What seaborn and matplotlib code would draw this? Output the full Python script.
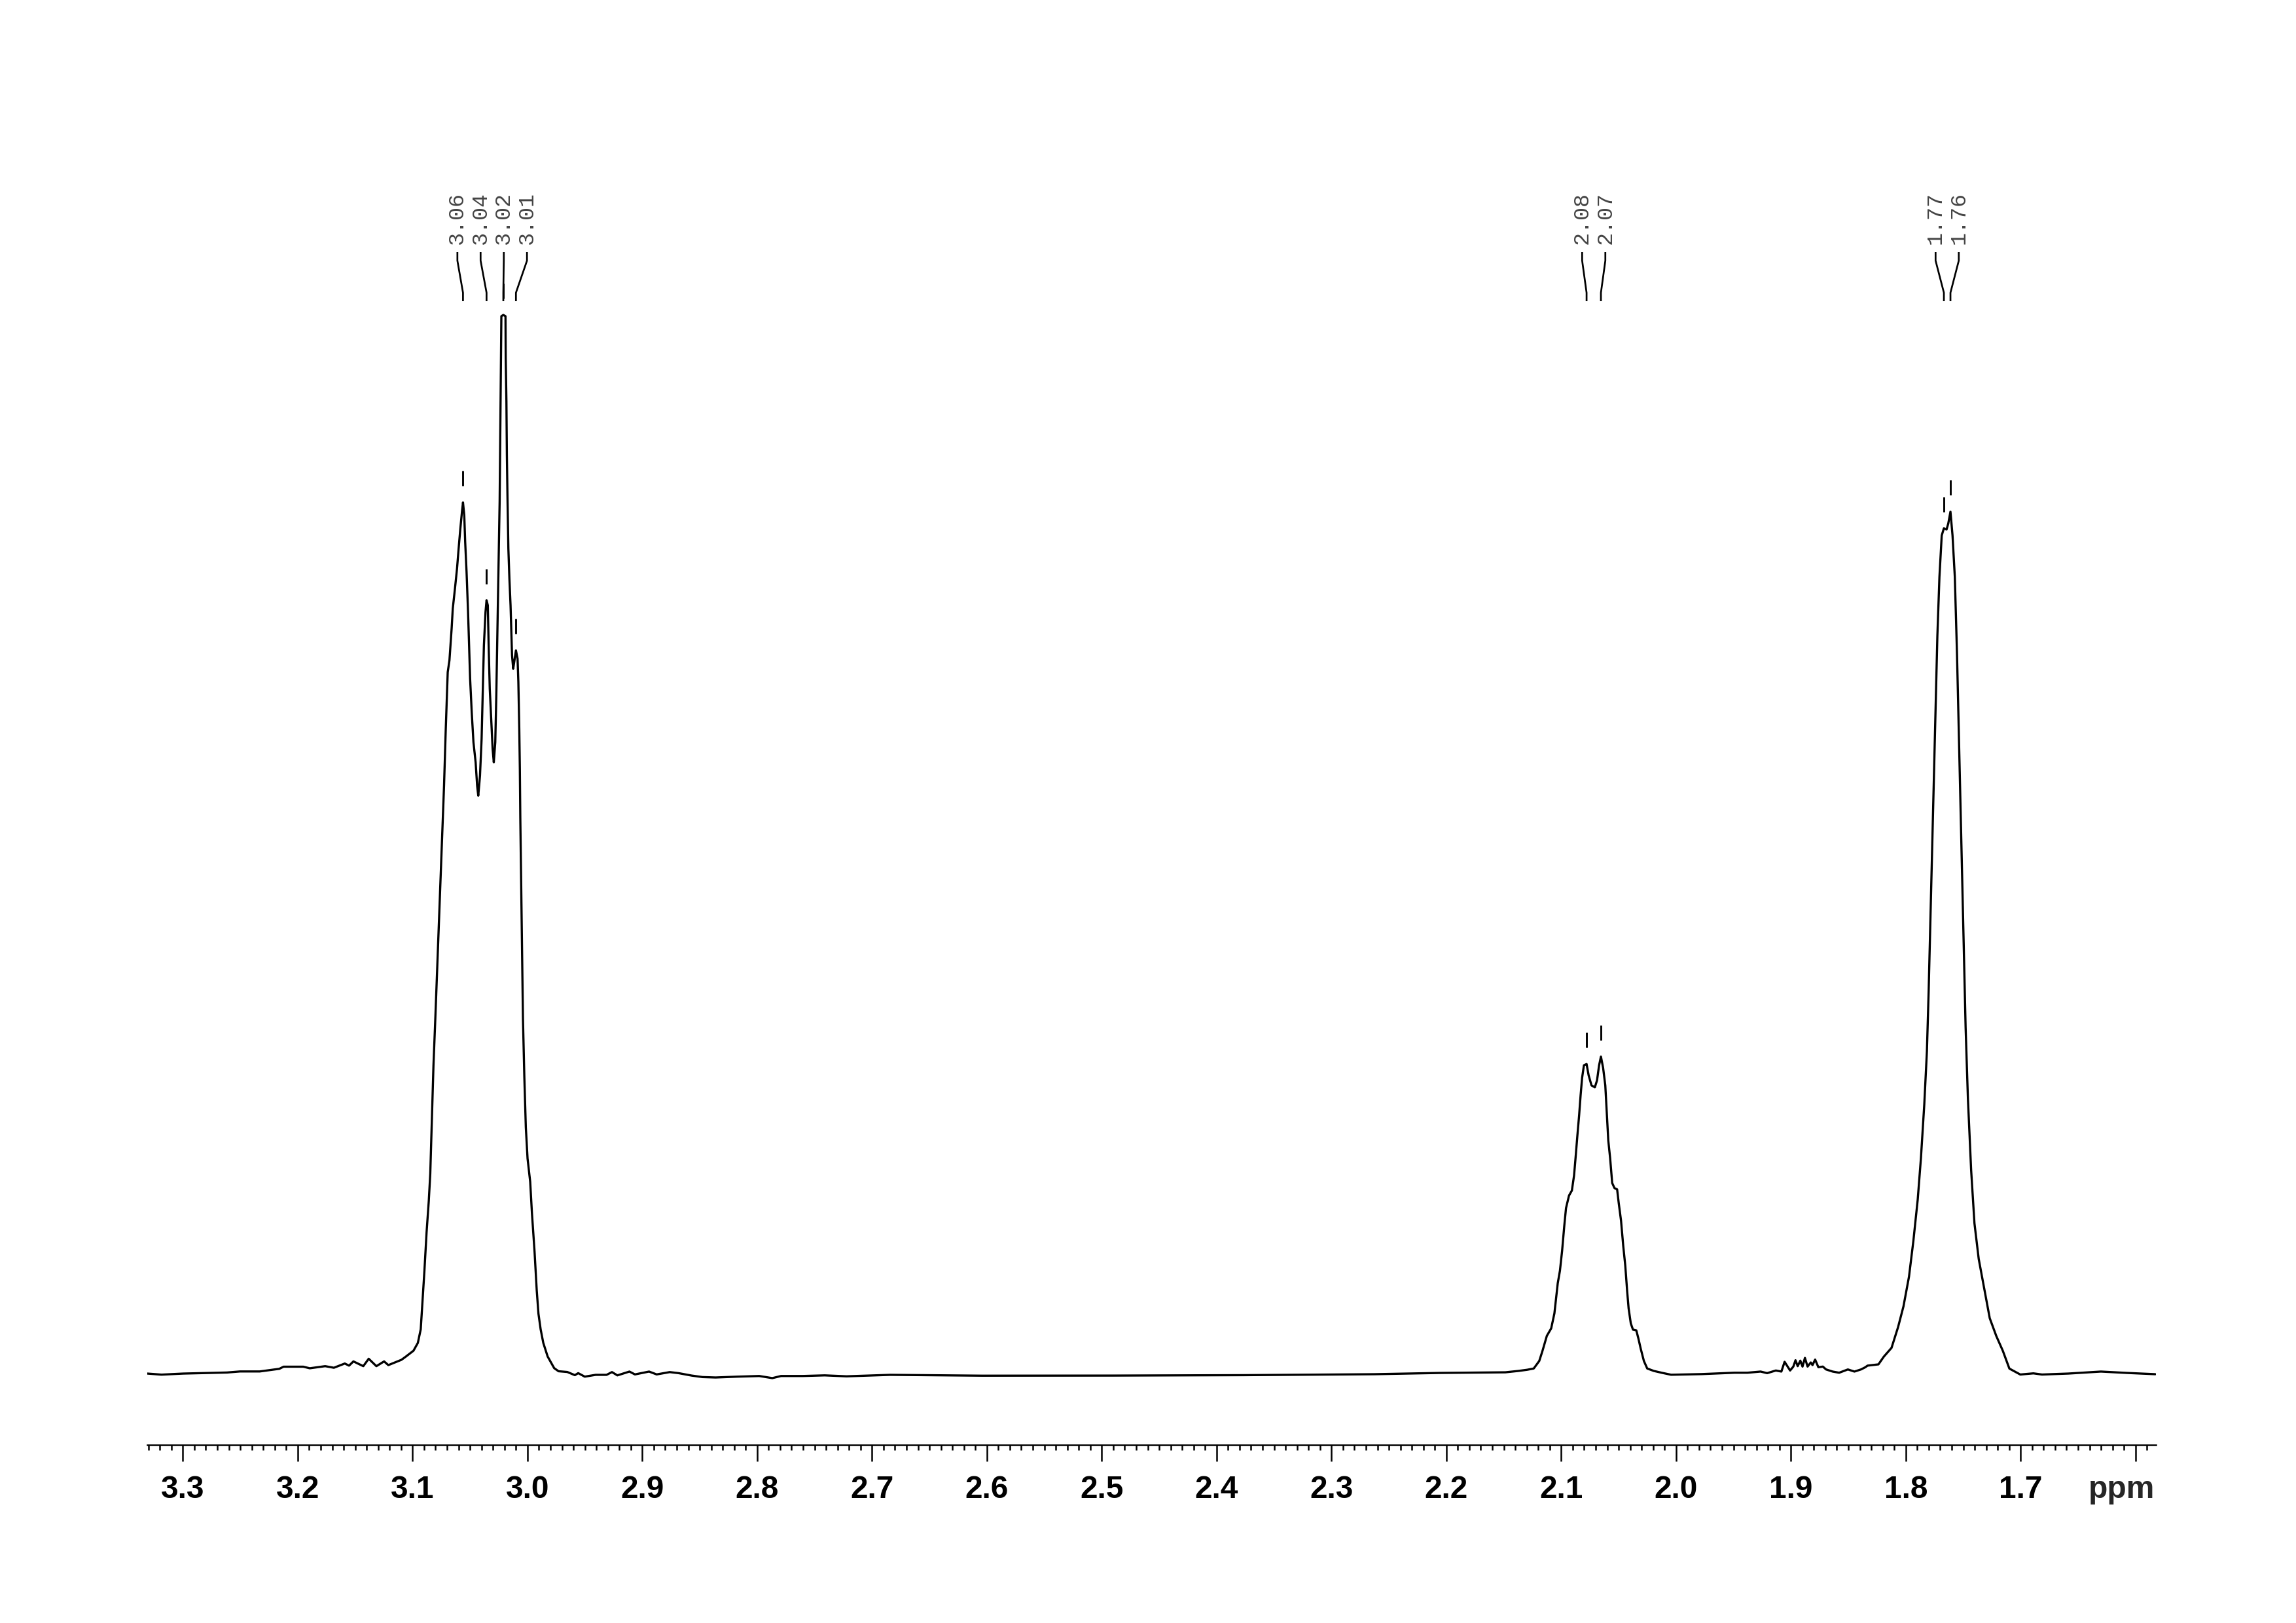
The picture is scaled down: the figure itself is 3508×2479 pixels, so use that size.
import numpy as np
import pandas as pd
import matplotlib
matplotlib.use("Agg")
import matplotlib.pyplot as plt
from matplotlib.ticker import MultipleLocator
import seaborn as sns

# 1H spectrum trace: shift (ppm) and intensity (tallest line = 100)
ppm = [3.3309, 3.3186, 3.2996, 3.2806, 3.2616, 3.2502, 3.2331, 3.2160, 3.2123, 3.1952,
       3.1895, 3.1761, 3.1685, 3.1590, 3.1553, 3.1515, 3.1429, 3.1382, 3.1315, 3.1248,
       3.1211, 3.1097, 3.1059, 3.0992, 3.0954, 3.0929, 3.0916, 3.0897, 3.0878, 3.0859,
       3.0846, 3.0831, 3.0818, 3.0802, 3.0783, 3.0764, 3.0745, 3.0726, 3.0711, 3.0701,
       3.0694, 3.0679, 3.0670, 3.0660, 3.0650, 3.0631, 3.0613, 3.0599, 3.0584, 3.0570,
       3.0561, 3.0550, 3.0542, 3.0530, 3.0517, 3.0508, 3.0499, 3.0485, 3.0470, 3.0451,
       3.0438, 3.0428, 3.0413, 3.0399, 3.0388, 3.0379, 3.0365, 3.0356, 3.0345, 3.0337,
       3.0328, 3.0314, 3.0303, 3.0293, 3.0280, 3.0271, 3.0261, 3.0251, 3.0242, 3.0236,
       3.0231, 3.0227, 3.0210, 3.0191, 3.0189, 3.0183, 3.0179, 3.0174, 3.0166, 3.0157,
       3.0147, 3.0141, 3.0134, 3.0124, 3.0115, 3.0100, 3.0086, 3.0079, 3.0071, 3.0066,
       3.0062, 3.0048, 3.0039, 3.0027, 3.0014, 2.9999, 2.9976, 2.9961, 2.9938, 2.9919,
       2.9904, 2.9885, 2.9862, 2.9824, 2.9767, 2.9729, 2.9653, 2.9587, 2.9558, 2.9501,
       2.9406, 2.9311, 2.9264, 2.9217, 2.9112, 2.9064, 2.8941, 2.8875, 2.8761, 2.8684,
       2.8570, 2.8476, 2.8362, 2.8171, 2.7982, 2.7868, 2.7792, 2.7602, 2.7412, 2.7222,
       2.7032, 2.6842, 2.6042, 2.4903, 2.3764, 2.2626, 2.2056, 2.1486, 2.1372, 2.1296,
       2.1239, 2.1191, 2.1163, 2.1125, 2.1087, 2.1059, 2.1030, 2.1011, 2.0992, 2.0973,
       2.0958, 2.0932, 2.0907, 2.0888, 2.0875, 2.0859, 2.0844, 2.0831, 2.0818, 2.0802,
       2.0779, 2.0761, 2.0736, 2.0707, 2.0688, 2.0670, 2.0654, 2.0635, 2.0616, 2.0603,
       2.0590, 2.0574, 2.0556, 2.0536, 2.0513, 2.0499, 2.0479, 2.0460, 2.0442, 2.0426,
       2.0413, 2.0394, 2.0375, 2.0346, 2.0328, 2.0308, 2.0280, 2.0251, 2.0194, 2.0118,
       2.0043, 1.9777, 1.9492, 1.9378, 1.9264, 1.9207, 1.9131, 1.9083, 1.9055, 1.9007,
       1.8979, 1.8960, 1.8941, 1.8918, 1.8899, 1.8878, 1.8855, 1.8827, 1.8812, 1.8789,
       1.8761, 1.8722, 1.8694, 1.8637, 1.8580, 1.8504, 1.8447, 1.8390, 1.8352, 1.8333,
       1.8238, 1.8191, 1.8124, 1.8067, 1.8020, 1.7972, 1.7934, 1.7896, 1.7868, 1.7839,
       1.7816, 1.7801, 1.7782, 1.7763, 1.7744, 1.7725, 1.7707, 1.7687, 1.7668, 1.7645,
       1.7630, 1.7611, 1.7593, 1.7573, 1.7554, 1.7536, 1.7516, 1.7497, 1.7479, 1.7459,
       1.7431, 1.7402, 1.7365, 1.7317, 1.7269, 1.7212, 1.7155, 1.7098, 1.7003, 1.6889,
       1.6814, 1.6586, 1.6301, 1.6073, 1.5828]
intensity = [0.0, -0.1, 0.0, 0.05, 0.1, 0.2, 0.2, 0.45, 0.65, 0.65,
             0.5, 0.7, 0.55, 0.95, 0.75, 1.15, 0.7, 1.4, 0.7, 1.15,
             0.8, 1.3, 1.6, 2.16, 2.9, 4.18, 6.4, 9.68, 13.35, 16.29,
             18.86, 24.35, 29.13, 33.53, 39.03, 44.53, 50.03, 55.53, 60.90, 64.06,
             66.26, 67.37, 68.79, 70.37, 72.26, 74.15, 76.04, 77.93, 79.83, 81.41,
             82.29, 81.09, 78.56, 75.73, 71.94, 68.79, 65.63, 62.47, 59.64, 57.74,
             55.53, 54.59, 56.48, 59.95, 64.69, 68.79, 71.94, 73.05, 72.57, 68.47,
             64.69, 61.53, 59.0, 57.74, 59.64, 64.06, 70.37, 76.67, 82.36, 89.30,
             95.61, 99.88, 100.0, 99.88, 95.92, 91.82, 86.77, 82.99, 77.93, 75.10,
             72.57, 70.37, 67.84, 66.58, 67.21, 68.31, 67.53, 65.32, 60.90, 57.11,
             52.44, 40.87, 33.53, 28.03, 23.26, 20.32, 18.12, 15.19, 11.52, 7.85,
             5.65, 4.18, 2.90, 1.61, 0.51, 0.22, 0.15, -0.15, 0.04, -0.29,
             -0.12, -0.12, 0.14, -0.17, 0.19, -0.08, 0.19, -0.08, 0.14, 0.04,
             -0.19, -0.33, -0.37, -0.29, -0.23, -0.43, -0.23, -0.23, -0.17, -0.26,
             -0.19, -0.12, -0.2, -0.19, -0.15, -0.06, 0.06, 0.12, 0.25, 0.36,
             0.48, 1.19, 2.14, 3.56, 4.27, 5.69, 8.53, 9.71, 11.60, 13.97,
             15.63, 16.81, 17.29, 18.71, 20.36, 22.49, 24.38, 26.28, 27.93, 29.12,
             29.24, 28.17, 27.22, 27.04, 27.70, 29.12, 29.94, 28.88, 27.22, 24.62,
             22.02, 20.36, 18.0, 17.52, 17.40, 16.10, 14.45, 12.08, 10.19, 7.82,
             6.16, 4.74, 4.15, 4.08, 3.32, 2.37, 1.19, 0.48, 0.25, 0.06,
             -0.11, -0.05, 0.08, 0.08, 0.19, 0.04, 0.29, 0.19, 1.11, 0.29,
             0.66, 1.26, 0.70, 1.22, 0.66, 1.48, 0.66, 1.05, 0.80, 1.32,
             0.60, 0.66, 0.39, 0.19, 0.08, 0.39, 0.19, 0.39, 0.60, 0.75,
             0.87, 1.60, 2.43, 4.39, 6.35, 9.15, 12.51, 16.44, 20.36, 25.40,
             30.44, 36.04, 44.45, 52.84, 61.25, 69.65, 75.25, 79.17, 79.85, 79.73,
             80.30, 81.42, 79.17, 75.25, 67.97, 59.57, 50.04, 41.64, 32.68, 25.96,
             19.23, 14.19, 10.83, 8.03, 5.23, 3.55, 2.15, 0.47, -0.09, 0.02,
             -0.09, 0.0, 0.19, 0.06, -0.06]

# picked peaks (position, printed label, multiplet group)
peak_ppm = [3.0561, 3.0356, 3.0210, 3.0100, 2.0779, 2.0654, 1.7668, 1.7611]
peak_labels = ["3.06", "3.04", "3.02", "3.01", "2.08", "2.07", "1.77", "1.76"]
peak_group = [0, 0, 0, 0, 1, 1, 2, 2]

# x axis ticks, last major one is replaced by the unit
major_ticks = [3.3, 3.2, 3.1, 3.0, 2.9, 2.8, 2.7, 2.6, 2.5, 2.4, 2.3, 2.2, 2.1, 2.0, 1.9, 1.8, 1.7, 1.6]
tick_labels = ["3.3", "3.2", "3.1", "3.0", "2.9", "2.8", "2.7", "2.6", "2.5", "2.4",
               "2.3", "2.2", "2.1", "2.0", "1.9", "1.8", "1.7", ""]

sns.set_style("white")
plt.rcParams["font.family"] = ["Liberation Sans", "DejaVu Sans"]

df = pd.DataFrame({"ppm": ppm, "intensity": intensity})

fig = plt.figure(figsize=(3508 / 300, 2479 / 300), dpi=300)
ax = fig.add_axes([0.06403, 0.10972, 0.87497, 0.89028])

sns.lineplot(data=df, x="ppm", y="intensity", ax=ax, color="black",
             linewidth=0.8, sort=False, estimator=None)

ax.set_xlim(3.3312, 1.5822)
ax.set_ylim(-6.74, 129.75)
ax.set(xlabel="", ylabel="")

for s in ["left", "right", "top"]:
    ax.spines[s].set_visible(False)
ax.spines["bottom"].set_linewidth(0.6)
ax.spines["bottom"].set_color("black")
ax.yaxis.set_visible(False)

ax.set_xticks(major_ticks, tick_labels, fontsize=11.5, fontweight="bold")
ax.xaxis.set_minor_locator(MultipleLocator(0.01))
ax.tick_params(axis="x", which="major", direction="out", length=6, width=0.6,
               pad=5, bottom=True, colors="black")
ax.tick_params(axis="x", which="minor", direction="out", length=1.8, width=0.6,
               bottom=True, color="black")
ax.annotate("ppm", xy=(1.612, 0), xycoords=("data", "axes fraction"),
            xytext=(0, -11), textcoords="offset points", ha="center", va="top",
            fontsize=11.5, fontweight="bold")

# peak picking labels with connectors
ppm_asc = np.array(ppm[::-1])
int_asc = np.array(intensity[::-1])
spacing = 0.0202
label_x = []
for i, p in enumerate(peak_ppm):
    members = [j for j, g in enumerate(peak_group) if g == peak_group[i]]
    center = np.mean([peak_ppm[j] for j in members])
    k = members.index(i)
    label_x.append(center + ((len(members) - 1) / 2 - k) * spacing)

for p, lx, lab in zip(peak_ppm, label_x, peak_labels):
    ax.text(lx, 106.68, lab, rotation=90, ha="center", va="bottom",
            fontsize=8, family="Liberation Mono", color="#444444")
    ax.plot([lx, lx, p, p], [105.94, 105.13, 102.10, 101.30],
            color="black", linewidth=0.65, solid_capstyle="butt")
    h = np.interp(p, ppm_asc, int_asc)
    ax.plot([p, p], [h + 1.55, h + 2.97], color="black", linewidth=0.7,
            solid_capstyle="butt")

fig.savefig("out.png", dpi=300)
